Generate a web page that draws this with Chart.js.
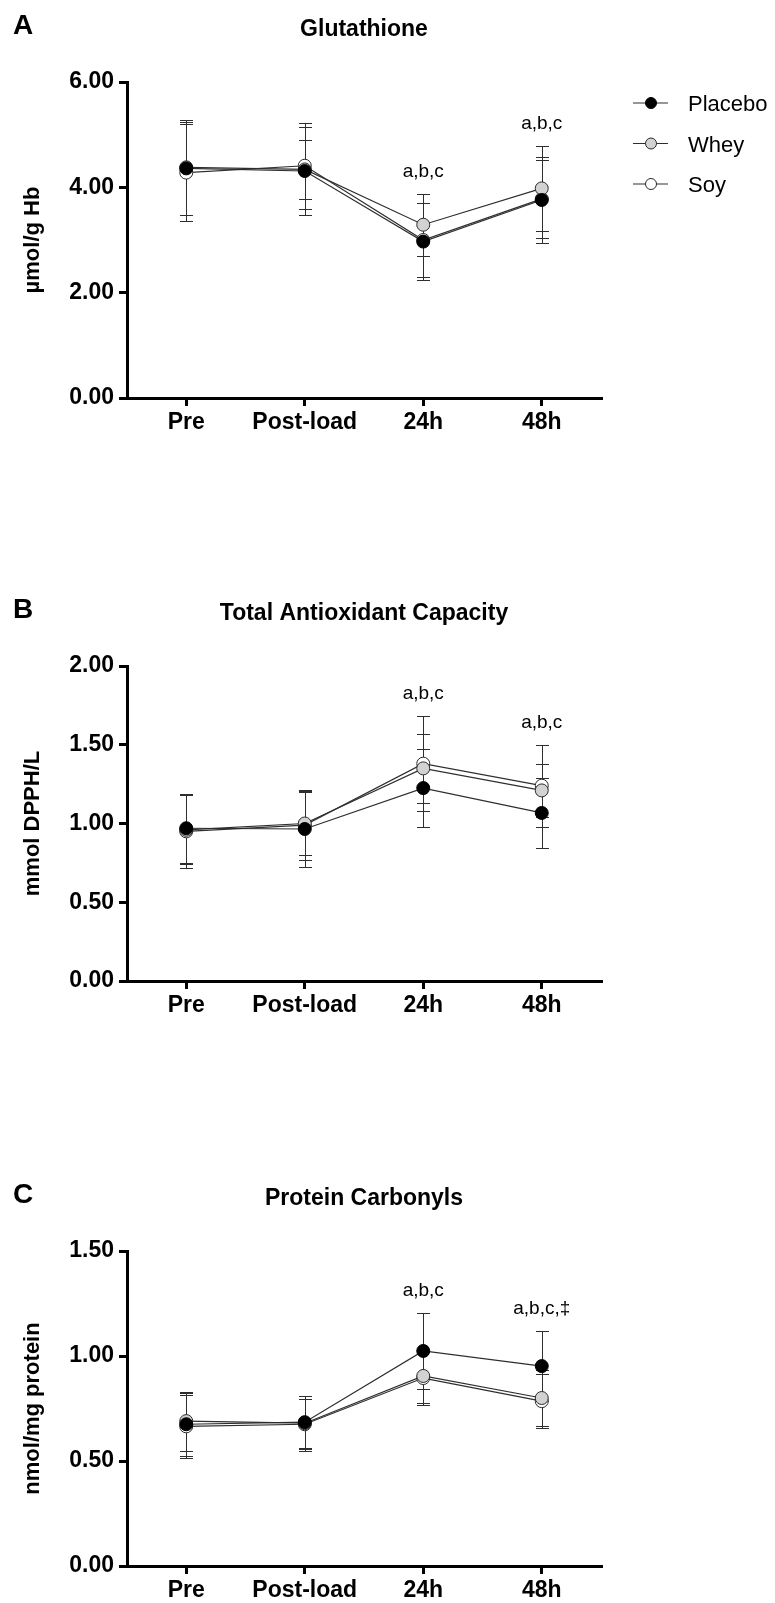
<!DOCTYPE html>
<html>
<head>
<meta charset="utf-8">
<style>
html,body{margin:0;padding:0;background:#fff;}
#wrap{position:relative;width:775px;height:1603px;overflow:hidden;background:#fff;}
#wrap canvas{position:absolute;left:0;top:0;}
</style>
<script src="https://cdn.jsdelivr.net/npm/chart.js@4.4.1/dist/chart.umd.min.js"></script>
</head>
<body>
<div id="wrap">
  <canvas id="cA" width="775" height="1603"></canvas>
  <canvas id="cB" width="775" height="1603"></canvas>
  <canvas id="cC" width="775" height="1603"></canvas>
</div>
<script>
// ---------------- DATA ----------------
const categories = ['Pre', 'Post-load', '24h', '48h'];
const seriesNames = ['Placebo', 'Whey', 'Soy'];

// A: Glutathione (µmol/g Hb)
const gshPlacebo   = [4.36, 4.31, 2.97, 3.76];
const gshPlaceboSD = [0.88, 0.84, 0.73, 0.82];
const gshWhey      = [4.38, 4.34, 3.29, 3.98];
const gshWheySD    = [0.90, 0.56, 0.59, 0.80];
const gshSoy       = [4.28, 4.41, 3.00, 3.78];
const gshSoySD     = [0.92, 0.82, 0.70, 0.74];
const gshTicks     = [0, 2, 4, 6];
const gshMarks     = ['', '', 'a,b,c', 'a,b,c'];

// B: Total Antioxidant Capacity (mmol DPPH/L)
const tacPlacebo   = [0.97, 0.965, 1.225, 1.067];
const tacPlaceboSD = [0.22, 0.24, 0.25, 0.22];
const tacWhey      = [0.96, 1.00, 1.35, 1.21];
const tacWheySD    = [0.22, 0.20, 0.22, 0.17];
const tacSoy       = [0.95, 0.99, 1.38, 1.24];
const tacSoySD     = [0.23, 0.22, 0.30, 0.26];
const tacTicks     = [0, 0.5, 1.0, 1.5, 2.0];
const tacMarks     = ['', '', 'a,b,c', 'a,b,c'];

// C: Protein Carbonyls (nmol/mg protein)
const pcPlacebo    = [0.675, 0.685, 1.024, 0.952];
const pcPlaceboSD  = [0.15, 0.125, 0.18, 0.165];
const pcWhey       = [0.69, 0.68, 0.905, 0.80];
const pcWheySD     = [0.14, 0.13, 0.13, 0.135];
const pcSoy        = [0.665, 0.675, 0.895, 0.785];
const pcSoySD      = [0.15, 0.12, 0.13, 0.13];
const pcTicks      = [0, 0.5, 1.0, 1.5];
const pcMarks      = ['', '', 'a,b,c', 'a,b,c,\u2021'];

// ---------------- STYLE ----------------
const FONT = '"Liberation Sans", Arial, Helvetica, sans-serif';
Chart.defaults.font.family = FONT;
Chart.defaults.color = '#000';

const seriesFill = ['#000000', '#d2d2d2', '#ffffff'];
const seriesEdge = ['#000000', '#2a2a2a', '#2a2a2a'];
const LINE_COLOR = '#2e2e2e';

const extras = {
  id: 'panelExtras',
  beforeDatasetsDraw(chart) {
    const ctx = chart.ctx, xs = chart.scales.x, ys = chart.scales.y;
    chart.data.datasets.forEach((ds) => {
      ds.errorBars.forEach((s, i) => {
        const px = Math.round(xs.getPixelForValue(i)) + 0.5;
        const m = ds.data[i];
        const yt = Math.round(ys.getPixelForValue(m + s)) + 0.5;
        const yb = Math.round(ys.getPixelForValue(m - s)) + 0.5;
        ctx.save();
        ctx.strokeStyle = '#2e2e2e';
        ctx.lineWidth = 1;
        ctx.beginPath();
        ctx.moveTo(px, yt); ctx.lineTo(px, yb);
        ctx.moveTo(px - 6.5, yt); ctx.lineTo(px + 6.5, yt);
        ctx.moveTo(px - 6.5, yb); ctx.lineTo(px + 6.5, yb);
        ctx.stroke();
        ctx.restore();
      });
    });
  },
  afterDraw(chart, args, opts) {
    const ctx = chart.ctx, ca = chart.chartArea, xs = chart.scales.x, ys = chart.scales.y;
    ctx.save();
    ctx.fillStyle = '#000';
    // panel letter
    ctx.font = 'bold 28px ' + FONT;
    ctx.textAlign = 'left';
    ctx.textBaseline = 'alphabetic';
    ctx.fillText(opts.letter, 13, ca.top - 48);
    // title
    ctx.font = 'bold 23px ' + FONT;
    ctx.textAlign = 'center';
    ctx.fillText(opts.title, (ca.left + ca.right) / 2, ca.top - 46);
    // significance marks
    ctx.font = '19px ' + FONT;
    opts.marks.forEach((txt, i) => {
      if (!txt) return;
      let topVal = -Infinity;
      chart.data.datasets.forEach(ds => { topVal = Math.max(topVal, ds.data[i] + ds.errorBars[i]); });
      ctx.fillText(txt, xs.getPixelForValue(i), ys.getPixelForValue(topVal) - 17);
    });
    // legend
    if (opts.legend) {
      chart.data.datasets.forEach((ds, k) => {
        const cy = ca.top + 21 + k * 40.5;
        ctx.strokeStyle = LINE_COLOR;
        ctx.lineWidth = 1.2;
        ctx.beginPath(); ctx.moveTo(633, cy); ctx.lineTo(668, cy); ctx.stroke();
        ctx.beginPath(); ctx.arc(651, cy, 5.5, 0, Math.PI * 2);
        ctx.fillStyle = ds.pointBackgroundColor; ctx.fill();
        ctx.strokeStyle = ds.pointBorderColor; ctx.lineWidth = 1; ctx.stroke();
        ctx.fillStyle = '#000';
        ctx.font = '22px ' + FONT;
        ctx.textAlign = 'left';
        ctx.fillText(ds.label, 688, cy + 8);
      });
    }
    ctx.restore();
  }
};

function makePanel(id, cfg) {
  const datasets = cfg.means.map((m, k) => ({
    label: seriesNames[k],
    data: m,
    errorBars: cfg.sds[k],
    borderColor: LINE_COLOR,
    borderWidth: 1.2,
    pointRadius: 6.5,
    pointHoverRadius: 6.5,
    pointBorderWidth: 1,
    pointBackgroundColor: seriesFill[k],
    pointBorderColor: seriesEdge[k],
    fill: false,
    tension: 0
  }));
  const yMax = cfg.ticks[cfg.ticks.length - 1];
  new Chart(document.getElementById(id), {
    type: 'line',
    data: { labels: categories, datasets },
    plugins: [extras],
    options: {
      responsive: false,
      animation: false,
      events: [],
      layout: { padding: { left: 0, right: 775 - 601, top: cfg.top, bottom: 1603 - cfg.bottom - 37 } },
      plugins: {
        legend: { display: false },
        title: { display: false },
        tooltip: { enabled: false },
        panelExtras: { letter: cfg.letter, title: cfg.title, marks: cfg.marks, legend: cfg.legend }
      },
      scales: {
        x: {
          type: 'category',
          offset: true,
          grid: { display: true, drawOnChartArea: false, drawTicks: true, tickLength: 8, tickWidth: 3, tickColor: '#000', lineWidth: 3, color: '#000' },
          border: { display: true, width: 3, color: '#000' },
          ticks: { font: { size: 23, weight: 'bold' }, color: '#000', padding: 3, maxRotation: 0, autoSkip: false },
          afterFit(s) { s.height = 37; }
        },
        y: {
          min: 0,
          max: yMax,
          afterBuildTicks(s) { s.ticks = cfg.ticks.map(v => ({ value: v })); },
          grid: { display: true, drawOnChartArea: false, drawTicks: true, tickLength: 8, tickWidth: 3, tickColor: '#000', lineWidth: 3, color: '#000' },
          border: { display: true, width: 3, color: '#000' },
          ticks: { font: { size: 23, weight: 'bold' }, color: '#000', padding: 5, callback: v => Number(v).toFixed(2) },
          title: { display: true, text: cfg.yTitle, color: '#000', font: { size: 22, weight: 'bold' }, padding: { top: 20, bottom: 0 } },
          afterFit(s) { s.width = 127; }
        }
      }
    }
  });
}

makePanel('cA', {
  letter: 'A', title: 'Glutathione', yTitle: 'µmol/g Hb',
  means: [gshPlacebo, gshWhey, gshSoy], sds: [gshPlaceboSD, gshWheySD, gshSoySD],
  ticks: gshTicks, marks: gshMarks, legend: true, top: 82, bottom: 398
});
makePanel('cB', {
  letter: 'B', title: 'Total Antioxidant Capacity', yTitle: 'mmol DPPH/L',
  means: [tacPlacebo, tacWhey, tacSoy], sds: [tacPlaceboSD, tacWheySD, tacSoySD],
  ticks: tacTicks, marks: tacMarks, legend: false, top: 666, bottom: 981
});
makePanel('cC', {
  letter: 'C', title: 'Protein Carbonyls', yTitle: 'nmol/mg protein',
  means: [pcPlacebo, pcWhey, pcSoy], sds: [pcPlaceboSD, pcWheySD, pcSoySD],
  ticks: pcTicks, marks: pcMarks, legend: false, top: 1251, bottom: 1566
});
</script>
</body>
</html>
